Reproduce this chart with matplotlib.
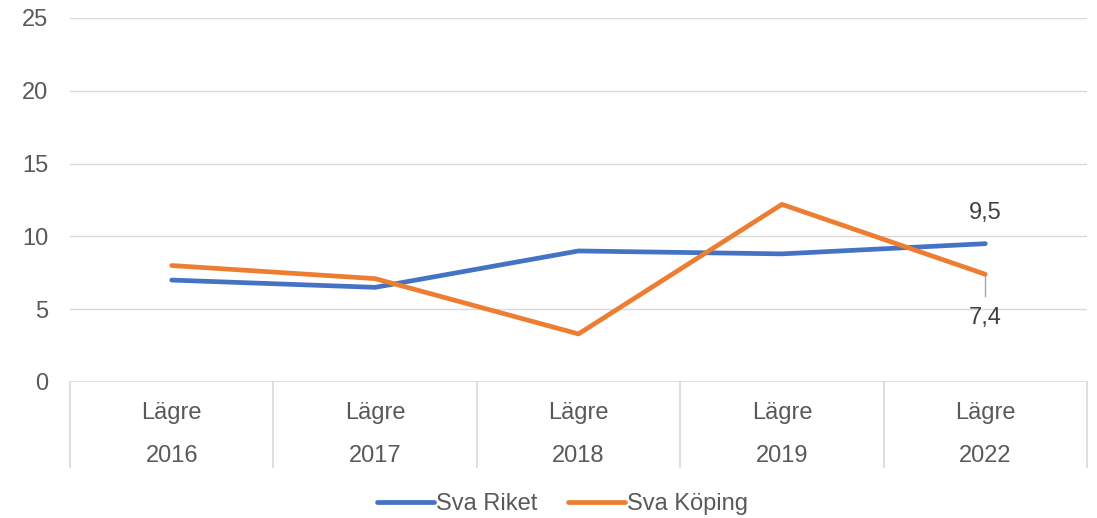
import matplotlib
matplotlib.use("Agg")
import matplotlib.pyplot as plt
from matplotlib.lines import Line2D

years = ["2016", "2017", "2018", "2019", "2022"]
level = ["Lägre", "Lägre", "Lägre", "Lägre", "Lägre"]
riket = [7.0, 6.5, 9.0, 8.8, 9.5]
koping = [8.0, 7.1, 3.3, 12.2, 7.4]
yticks = [0, 5, 10, 15, 20, 25]

plt.rcParams['font.family'] = ['Liberation Sans', 'DejaVu Sans']
TXT = '#595959'
GRID = '#d9d9d9'
BLUE = '#4472C4'
ORANGE = '#ED7D31'
FS = 17

fig = plt.figure(figsize=(10.97, 5.18), dpi=100)
ax = fig.add_axes([70/1097, 1-382/518, (1087-70)/1097, 364/518])

x = list(range(len(years)))
ax.plot(x, riket, color=BLUE, lw=3.4, solid_capstyle='round', label='Sva Riket', zorder=3)
ax.plot(x, koping, color=ORANGE, lw=3.4, solid_capstyle='round', label='Sva Köping', zorder=3)

ax.set_xlim(-0.5, len(years)-0.5)
ax.set_ylim(0, 25)
ax.set_yticks(yticks)
ax.set_yticklabels([str(t) for t in yticks])
ax.tick_params(axis='y', length=0, pad=15.5, labelsize=FS, labelcolor=TXT)
ax.set_xticks([])
for t in yticks[1:]:
    ax.axhline(t, color=GRID, lw=1.0, zorder=1)
for s in ax.spines.values():
    s.set_visible(False)
ax.axhline(0, color=GRID, lw=1.2, zorder=1)

# category axis boxes
depth = -(467-382)/364
for b in range(len(years)+1):
    ax.plot([b-0.5, b-0.5], [0, depth], transform=ax.get_xaxis_transform(),
            color=GRID, lw=1.2, clip_on=False)
for i in x:
    ax.text(i, -(413-382)/364, level[i], transform=ax.get_xaxis_transform(),
            ha='center', va='center', fontsize=FS, color=TXT)
    ax.text(i, -(456-382)/364, years[i], transform=ax.get_xaxis_transform(),
            ha='center', va='center', fontsize=FS, color=TXT)

# data labels
ax.annotate(f"{riket[-1]:.1f}".replace('.', ','), (x[-1], riket[-1]),
            xytext=(0, 22), textcoords='offset points', ha='center', va='center',
            fontsize=FS, color='#404040')
ax.annotate(f"{koping[-1]:.1f}".replace('.', ','), (x[-1], koping[-1]),
            xytext=(0, -31.5), textcoords='offset points', ha='center', va='center',
            fontsize=FS, color='#404040')
ax.plot([x[-1], x[-1]], [koping[-1], koping[-1] - 1.5], color='#a6a6a6', lw=1, zorder=2)

handles = [Line2D([], [], color=BLUE, lw=3.4, solid_capstyle='round'),
           Line2D([], [], color=ORANGE, lw=3.4, solid_capstyle='round')]
fig.legend(handles, ['Sva Riket', 'Sva Köping'], loc='center', bbox_to_anchor=(0.513, 1-504/518),
           ncol=2, frameon=False, fontsize=FS, labelcolor=TXT, handlelength=2.4,
           handletextpad=0.1, columnspacing=1.3, borderpad=0)

fig.savefig('out.png', dpi=100)
